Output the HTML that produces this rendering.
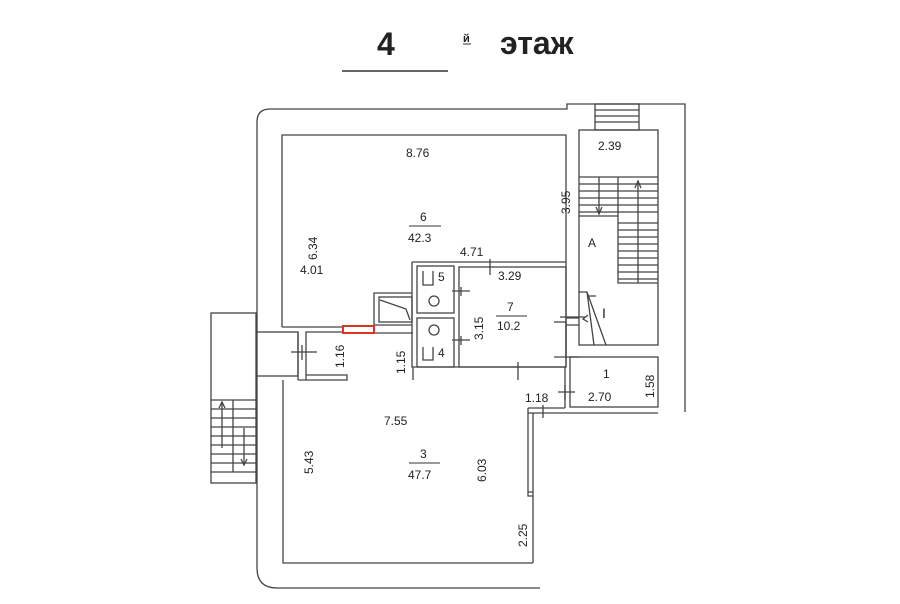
<!DOCTYPE html>
<html><head><meta charset="utf-8"><style>
html,body{margin:0;padding:0;background:#fff;width:900px;height:604px;overflow:hidden}
svg{display:block}
text{font-family:"Liberation Sans",Arial,sans-serif;fill:#222}
</style></head><body>
<svg width="900" height="604" viewBox="0 0 900 604" xmlns="http://www.w3.org/2000/svg">
<g font-weight="bold">
<text x="377" y="55" font-size="32">4</text>
<text x="500" y="54" font-size="32" font-family="Liberation Sans,DejaVu Sans,sans-serif">этаж</text>
<text x="463" y="42" font-size="11" font-family="Liberation Sans,DejaVu Sans,sans-serif">й</text>
</g>
<line x1="342" y1="71" x2="448" y2="71" stroke="#333" stroke-width="1.5"/>
<line x1="463" y1="44" x2="471" y2="44" stroke="#333" stroke-width="1"/>
<g fill="none" stroke="#444" stroke-width="1.3">
<path d="M257 332 V122 Q257 109 270 109 H567 V104 H685 V412"/>
<path d="M257 376 V568 Q257 588 277 588 H540"/>
<path d="M282 327 V135 H566 V262"/>
<path d="M282 327 H343 M374 325 H412"/>
<path d="M412 262 H566 V345"/>
<path d="M412 262 V367 H566"/>
<path d="M566 345 V367"/>
<rect x="417" y="266" width="37" height="47"/>
<rect x="417" y="318" width="37" height="49"/>
<rect x="459" y="267" width="107" height="100"/>
<path d="M374 325 V293 H412"/>
<rect x="379" y="297" width="33" height="25"/>
<path d="M380 300 L406 309 L410 320"/>
<circle cx="434" cy="301" r="5"/><circle cx="434" cy="330" r="5"/>
<path d="M423 271 V285 H433 V271 M423 347 V360 H433 V347"/>
<rect x="579" y="130" width="79" height="215"/>
<rect x="595" y="104" width="44" height="26"/>
<path d="M595 110 H639 M595 116 H639 M595 122 H639"/>
<path d="M579 177 H658 M618 177 V283 H658 M579 216 H618"/>
<path d="M579 184 H658 M579 191 H658 M579 198 H658 M579 205 H658 M579 212 H658 M618 223 H658 M618 230 H658 M618 237 H658 M618 244 H658 M618 251 H658 M618 258 H658 M618 265 H658 M618 272 H658 M618 279 H658"/>
<path d="M599 177 V214 M638 283 V182"/>
<path d="M596 207 L599 214 L602 207 M635 188 L638 181 L641 188"/>
<path d="M579 292 H587 L606 345 M587 292 L594 345 M587 296 H596"/>
<path d="M566 318 H579 M566 357 H579 M566 325 H579"/>
<path d="M560 317 H585 M588 315 L583 319 L588 322"/>
<rect x="570" y="357" width="88" height="50"/>
<path d="M528 413 H658 M528 408 H565 M565 367 V408"/>
<path d="M528 408 V492 M533 413 V492 H528 M533 492 V563 M528 492 V496 H533"/>
<rect x="257" y="332" width="41" height="44"/>
<path d="M306 380 V332 H343 M298 380 V332 M298 380 H347 V375 H306"/>
<rect x="211" y="313" width="45" height="170"/>
<path d="M211 400 H256 M211 409 H256 M211 418 H256 M211 427 H256 M211 436 H256 M211 445 H256 M211 454 H256 M211 463 H256 M211 472 H256 M233 400 V472 M222 402 V448 M244 428 V465"/>
<path d="M219 408 L222 402 L225 408 M241 459 L244 465 L247 459"/>
<path d="M283 380 V563 H533"/>
<path d="M413 367 V380 M374 333 H413"/>
<path d="M291 352 H317 M302 345 V360 M452 291 H470 M452 340 H470 M461 287 V296 M461 336 V345 M518 362 V380 M490 259 V275 M558 392 H575 M565 385 V400 M543 405 V418"/>
<path d="M554 322 H566 V357 H554"/>
</g>
<rect x="343" y="326" width="31" height="7" fill="none" stroke="#d32" stroke-width="2"/>
<g font-size="12">
<text x="406" y="157">8.76</text>
<text x="598" y="150">2.39</text>
<text x="420" y="221">6</text>
<line x1="409" y1="226" x2="441" y2="226" stroke="#333"/>
<text x="408" y="242">42.3</text>
<text x="460" y="256">4.71</text>
<text x="300" y="274">4.01</text>
<text x="498" y="280">3.29</text>
<text x="438" y="281">5</text>
<text x="438" y="357">4</text>
<text x="588" y="247">A</text>
<text x="507" y="311">7</text>
<line x1="496" y1="316" x2="527" y2="316" stroke="#333"/>
<text x="497" y="330">10.2</text>
<text x="602" y="318" font-size="14">I</text>
<text x="603" y="378">1</text>
<text x="525" y="402">1.18</text>
<text x="588" y="401">2.70</text>
<text x="384" y="425">7.55</text>
<text x="420" y="458">3</text>
<line x1="409" y1="463" x2="440" y2="463" stroke="#333"/>
<text x="408" y="479">47.7</text>
<text transform="translate(570,214) rotate(-90)">3.95</text>
<text transform="translate(317,260) rotate(-90)">6.34</text>
<text transform="translate(344,368) rotate(-90)">1.16</text>
<text transform="translate(405,374) rotate(-90)">1.15</text>
<text transform="translate(483,340) rotate(-90)">3.15</text>
<text transform="translate(654,398) rotate(-90)">1.58</text>
<text transform="translate(313,474) rotate(-90)">5.43</text>
<text transform="translate(486,482) rotate(-90)">6.03</text>
<text transform="translate(527,547) rotate(-90)">2.25</text>
</g>
</svg>
</body></html>
